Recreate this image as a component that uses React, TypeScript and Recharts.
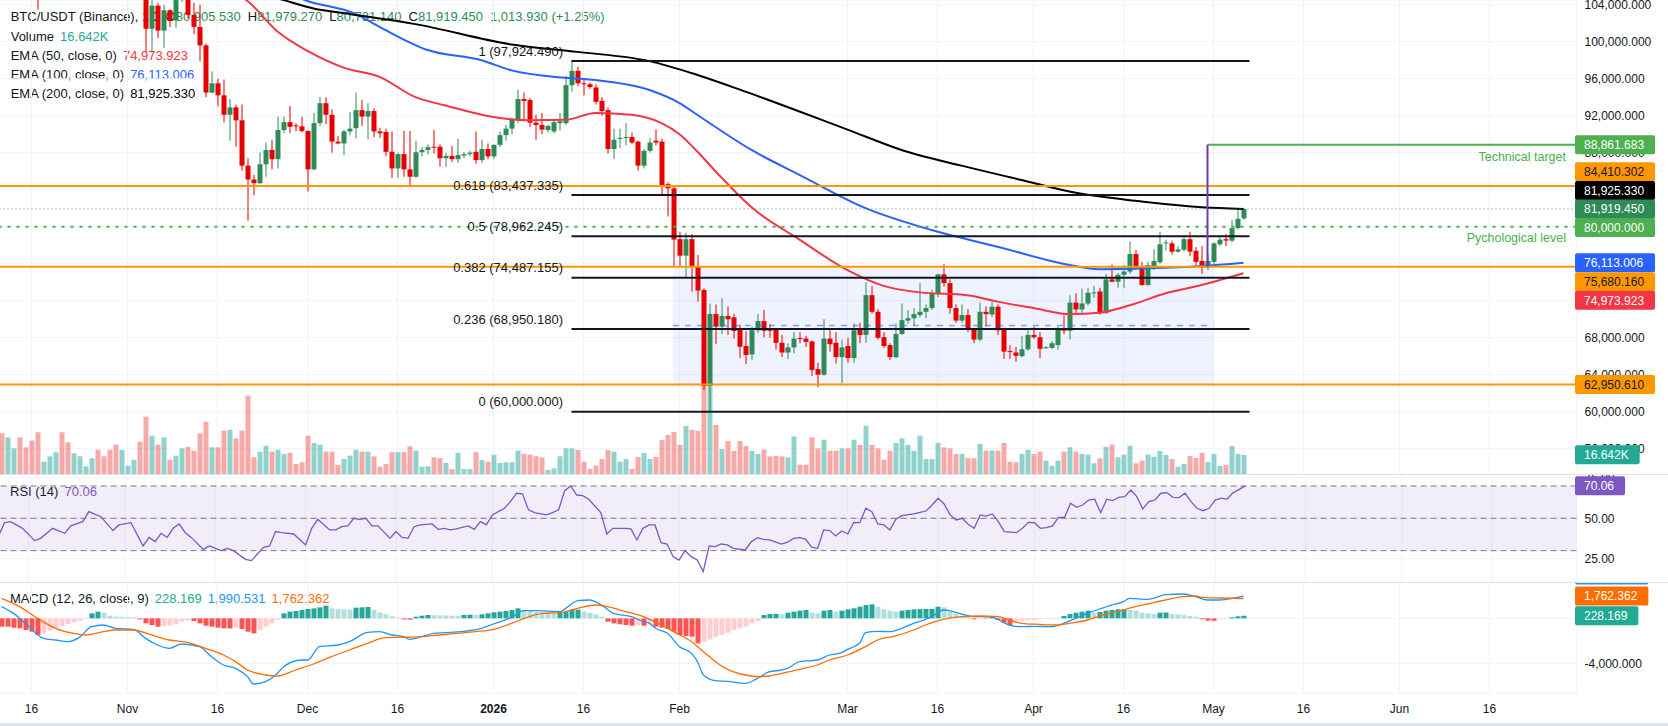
import React from 'react';
import {
  ComposedChart,
  Bar,
  Line,
  XAxis,
  YAxis,
  CartesianGrid,
  ReferenceLine,
  ReferenceArea,
} from 'recharts';

// ---------- look ----------
const FONT = '"Liberation Sans", Arial, Helvetica, sans-serif';
const TEXT = '#131722';
const UP = '#2e8b57';
const DOWN = '#e60000';
const VOL_UP = 'rgba(38,166,154,0.5)';
const VOL_DOWN = 'rgba(239,83,80,0.5)';
const GRID = '#f0f3fa';
const ORANGE = '#ff9800';
const FIB = '#131722';
const TARGET = '#4caf50';

// ---------- calendar ----------
const START_UTC = Date.UTC(2025, 9, 11); // first daily bar: 2025-10-11
const TOTAL_DAYS = 263; // bars plus empty space to the right
const DAY_MS = 86400000;
const dayKey = (i: number) => new Date(START_UTC + i * DAY_MS).toISOString().slice(0, 10);

const DATE_LABELS: [string, string][] = [
  ['2025-10-16', '16'], ['2025-11-01', 'Nov'], ['2025-11-16', '16'], ['2025-12-01', 'Dec'],
  ['2025-12-16', '16'], ['2026-01-01', '2026'], ['2026-01-16', '16'], ['2026-02-01', 'Feb'],
  ['2026-03-01', 'Mar'], ['2026-03-16', '16'], ['2026-04-01', 'Apr'], ['2026-04-16', '16'],
  ['2026-05-01', 'May'], ['2026-05-16', '16'], ['2026-06-01', 'Jun'], ['2026-06-16', '16'],
];

// ---------- BTC/USDT daily candles, thousands of USDT: [open, high, low, close] ----------
const CANDLES_K: [number, number, number, number][] = [
  [113.2, 113.5, 109.7, 110.6], [110.6, 115.8, 109.6, 115.2], [115.2, 116.0, 113.0, 115.3], [115.3, 115.6, 109.9, 113.0], [113.0, 113.6, 110.2, 110.8],
  [110.8, 111.9, 107.5, 108.2], [108.2, 109.3, 103.5, 106.4], [106.4, 107.5, 106.3, 107.2], [107.2, 109.4, 106.1, 108.6], [108.6, 111.7, 107.4, 110.5],
  [110.5, 114.0, 107.5, 108.4], [108.4, 109.1, 106.6, 107.6], [107.6, 111.3, 107.4, 110.0], [110.0, 112.0, 109.7, 111.0], [111.0, 111.9, 110.8, 111.6],
  [111.6, 115.4, 111.3, 114.5], [114.5, 116.4, 113.8, 114.1], [114.1, 116.1, 112.2, 112.9], [112.9, 113.6, 109.9, 110.0], [110.0, 111.6, 106.3, 108.3],
  [108.3, 111.2, 108.2, 109.6], [109.6, 110.6, 109.4, 110.1], [110.1, 111.2, 109.4, 110.5], [110.5, 110.8, 105.3, 106.5], [106.5, 107.3, 98.9, 101.4],
  [101.4, 104.5, 98.8, 103.9], [103.9, 104.2, 100.4, 101.2], [101.2, 104.0, 99.3, 103.4], [103.4, 103.5, 101.6, 102.3], [102.3, 104.6, 101.5, 104.5],
  [104.5, 106.6, 104.3, 106.0], [106.0, 107.5, 102.5, 102.9], [102.9, 104.2, 100.8, 101.6], [101.6, 104.0, 97.9, 99.6], [99.6, 99.8, 94.0, 94.5],
  [94.5, 96.8, 94.4, 95.5], [95.5, 96.0, 93.0, 94.2], [94.2, 95.9, 91.25, 92.1], [92.1, 93.8, 89.3, 92.9], [92.9, 93.2, 88.65, 91.5],
  [91.5, 93.2, 86.05, 86.6], [86.6, 87.4, 80.66, 85.1], [85.1, 85.6, 83.4, 84.7], [84.7, 88.0, 84.6, 86.75], [86.75, 89.1, 85.4, 88.3],
  [88.3, 89.4, 86.2, 87.3], [87.3, 91.9, 86.3, 90.45], [90.45, 91.9, 90.1, 91.3], [91.3, 93.05, 90.1, 90.8], [90.95, 91.2, 90.3, 90.85],
  [90.85, 91.9, 90.2, 90.35], [90.35, 90.4, 83.8, 86.2], [86.2, 92.3, 86.1, 91.2], [91.2, 94.05, 90.9, 93.35], [93.35, 94.0, 91.1, 92.1],
  [92.1, 92.7, 88.0, 89.2], [89.2, 89.8, 88.9, 89.0], [89.0, 90.5, 87.75, 90.3], [90.3, 92.4, 89.9, 90.6], [90.65, 94.5, 89.55, 92.6],
  [92.6, 93.7, 90.9, 91.9], [91.9, 93.35, 89.45, 92.5], [92.5, 92.8, 89.7, 90.3], [90.3, 90.7, 89.6, 90.1], [90.25, 90.6, 87.6, 88.1],
  [88.1, 90.3, 85.25, 86.3], [86.3, 88.0, 85.3, 87.85], [87.85, 90.35, 85.4, 86.2], [86.2, 90.35, 84.4, 85.4], [85.4, 89.3, 85.3, 88.05],
  [88.05, 88.6, 87.6, 88.3], [88.3, 88.9, 87.8, 88.6], [88.65, 90.45, 87.9, 88.55], [88.65, 88.9, 86.5, 87.4], [87.4, 88.0, 86.5, 87.65],
  [87.65, 88.7, 87.0, 87.3], [87.3, 89.5, 86.9, 87.75], [87.7, 88.1, 87.4, 87.85], [87.85, 88.2, 87.6, 88.0], [88.1, 90.3, 86.8, 87.2],
  [87.2, 89.4, 86.9, 88.4], [88.4, 89.0, 87.3, 87.6], [87.6, 88.9, 87.3, 88.85], [88.85, 90.3, 88.6, 89.9], [89.9, 91.0, 89.3, 90.6],
  [90.6, 91.8, 90.0, 91.55], [91.5, 94.8, 91.2, 93.8], [93.8, 94.5, 91.4, 93.6], [93.7, 93.9, 90.8, 91.25], [91.25, 92.1, 89.4, 91.0],
  [91.0, 92.3, 90.0, 90.5], [90.45, 91.0, 90.2, 90.9], [90.3, 91.6, 90.1, 91.3], [91.2, 92.3, 90.4, 91.4], [91.2, 96.3, 91.0, 95.3],
  [95.3, 97.92449, 94.6, 96.85], [96.85, 97.3, 95.2, 95.5], [95.5, 95.9, 94.2, 95.4], [95.4, 95.6, 94.9, 95.1], [95.05, 95.4, 93.2, 93.5],
  [93.6, 94.0, 92.0, 92.5], [92.6, 92.9, 87.9, 88.4], [88.4, 90.6, 87.3, 89.4], [89.5, 90.6, 88.5, 89.6], [89.6, 91.2, 88.8, 89.7],
  [89.7, 90.2, 88.9, 89.1], [89.2, 89.3, 86.05, 86.6], [86.6, 88.4, 86.3, 88.2], [88.2, 89.55, 88.0, 89.1], [89.3, 90.5, 88.8, 89.1],
  [89.2, 89.5, 83.4, 84.5], [84.6, 84.8, 81.1, 84.15], [84.15, 84.5, 75.75, 78.6], [78.65, 79.45, 75.68, 76.87], [76.87, 79.35, 74.5, 78.65],
  [78.65, 79.2, 72.97, 75.68], [75.75, 76.94, 71.9, 73.1], [73.16, 73.34, 62.35, 62.78], [62.8, 71.7, 60.0, 70.57], [70.57, 71.6, 67.3, 69.2],
  [69.2, 72.25, 68.4, 70.35], [70.35, 71.4, 68.3, 70.0], [70.2, 70.6, 67.9, 68.73], [68.9, 69.4, 65.8, 67.03], [67.1, 68.7, 65.15, 66.13],
  [66.2, 69.2, 65.6, 68.8], [68.8, 70.55, 68.5, 69.8], [69.8, 71.0, 68.05, 68.75], [68.85, 69.5, 68.0, 68.75], [68.9, 69.0, 66.7, 67.45],
  [67.45, 68.3, 65.9, 66.4], [66.4, 67.4, 65.7, 66.95], [66.95, 68.6, 66.3, 67.9], [67.95, 68.6, 67.4, 67.85], [67.9, 68.2, 67.0, 67.55],
  [67.6, 67.7, 63.85, 64.5], [64.6, 65.3, 62.65, 64.0], [64.0, 70.0, 63.9, 67.9], [67.9, 68.8, 66.5, 67.3], [67.45, 68.6, 65.2, 65.9],
  [65.9, 67.8, 63.1, 66.95], [67.1, 68.0, 65.3, 65.8], [65.8, 69.55, 65.3, 68.8], [69.0, 69.6, 67.4, 68.3], [68.3, 74.0, 67.45, 72.6],
  [72.6, 73.6, 70.6, 70.8], [70.8, 71.1, 67.8, 68.0], [68.05, 68.6, 66.9, 67.1], [67.2, 67.4, 65.6, 65.9], [65.9, 69.55, 65.8, 68.4],
  [68.4, 71.7, 68.3, 69.9], [69.85, 71.0, 69.5, 70.1], [70.1, 71.2, 69.3, 70.55], [70.45, 73.9, 70.2, 70.8], [70.8, 71.6, 70.1, 71.2],
  [71.2, 73.2, 71.0, 72.8], [72.8, 74.9, 72.4, 74.85], [74.85, 75.95, 73.5, 73.9], [73.9, 74.3, 70.6, 71.2], [71.2, 71.6, 69.6, 69.85],
  [69.85, 71.6, 69.6, 70.45], [70.45, 71.1, 68.6, 68.9], [68.9, 69.0, 67.4, 67.8], [67.8, 71.8, 67.6, 70.8], [70.8, 71.4, 69.2, 70.55],
  [70.5, 71.9, 70.2, 71.35], [71.35, 71.6, 68.3, 68.8], [68.9, 69.0, 65.7, 66.5], [66.55, 67.2, 65.7, 66.45], [66.4, 67.0, 65.4, 66.05],
  [66.0, 68.2, 65.9, 66.75], [66.75, 68.8, 66.6, 68.3], [68.3, 69.2, 67.9, 68.05], [68.05, 68.6, 65.8, 66.8], [66.9, 67.1, 66.8, 66.97],
  [66.9, 67.6, 66.8, 67.4], [67.2, 69.2, 66.7, 69.0], [69.0, 70.4, 68.4, 68.75], [68.75, 72.6, 67.8, 71.8], [71.8, 72.8, 70.7, 71.05],
  [71.05, 73.3, 70.7, 71.7], [71.7, 73.4, 71.5, 72.85], [72.85, 73.6, 72.3, 72.9], [73.0, 73.4, 70.5, 70.65], [70.65, 74.9, 70.6, 74.3],
  [74.3, 75.9, 74.0, 74.05], [74.05, 75.0, 73.4, 74.8], [74.8, 75.85, 73.35, 75.15], [75.15, 78.4, 74.9, 77.05], [77.05, 77.5, 75.4, 75.6],
  [75.75, 76.2, 73.6, 73.7], [73.7, 76.2, 73.6, 75.85], [75.75, 77.55, 75.3, 76.3], [76.15, 79.45, 76.0, 78.1], [78.2, 78.6, 77.4, 78.3],
  [78.2, 78.5, 77.0, 77.3], [77.3, 77.9, 77.2, 77.55], [77.5, 78.9, 77.3, 78.65], [78.65, 79.45, 76.8, 77.3], [77.4, 77.8, 75.8, 76.2],
  [76.3, 77.9, 74.9, 75.6], [75.6, 77.0, 75.3, 76.3], [76.2, 78.3, 75.9, 78.2], [78.1, 79.0, 77.9, 78.6], [78.65, 79.2, 77.9, 78.5],
  [78.5, 80.7, 78.3, 79.85], [79.85, 81.9, 79.7, 80.85], [80.90553, 81.97927, 80.73114, 81.91945],
];

// daily volume, thousand BTC
const VOLUME_K: number[] = [
  35.4, 31.9, 22.3, 31.9, 23.2, 29.0, 36.3, 10.7, 15.4, 18.9,
  36.3, 27.6, 18.0, 15.4, 6.7, 13.7, 21.1, 15.4, 21.1, 25.5,
  21.1, 7.2, 12.4, 28.1, 49.8, 33.3, 25.5, 31.9, 12.4, 15.9,
  22.3, 23.7, 20.3, 35.4, 45.5, 23.2, 23.2, 37.7, 38.5, 31.0,
  37.7, 68.1, 14.5, 19.4, 24.6, 19.4, 21.1, 17.4, 18.3, 8.7,
  10.2, 33.3, 27.0, 25.5, 19.4, 19.4, 7.8, 13.0, 15.9, 21.1,
  19.4, 19.4, 15.4, 6.3, 8.7, 18.9, 18.9, 18.9, 24.1, 20.3,
  6.3, 6.7, 14.5, 13.9, 9.6, 4.3, 18.5, 4.3, 4.3, 18.9,
  12.2, 10.7, 16.8, 9.6, 10.2, 10.2, 20.3, 17.4, 16.8, 15.4,
  14.5, 3.5, 5.0, 15.4, 22.3, 22.3, 20.9, 10.7, 4.3, 7.2,
  13.0, 20.9, 19.4, 10.7, 13.0, 4.3, 14.8, 18.3, 13.0, 14.8,
  29.6, 33.9, 36.5, 25.2, 41.7, 38.3, 37.4, 83.5, 80.0, 42.6,
  21.7, 28.7, 20.0, 28.7, 24.3, 20.0, 17.4, 21.1, 15.4, 15.9,
  15.4, 14.5, 32.8, 8.1, 8.1, 31.9, 22.3, 29.8, 20.3, 20.3,
  22.3, 22.3, 29.8, 25.2, 42.0, 25.2, 22.3, 12.4, 20.3, 27.0,
  31.0, 25.2, 20.3, 33.3, 13.0, 13.0, 27.0, 23.2, 22.3, 17.4,
  17.4, 13.7, 13.7, 26.1, 20.3, 20.3, 20.3, 27.0, 10.7, 10.2,
  17.4, 21.1, 17.4, 19.4, 11.6, 7.2, 11.6, 19.4, 23.2, 19.4,
  17.4, 16.8, 9.3, 13.7, 23.7, 25.5, 14.5, 16.8, 24.6, 9.3,
  11.6, 16.8, 15.0, 20.0, 16.5, 13.0, 6.3, 8.7, 15.7, 13.9,
  18.3, 10.4, 17.4, 7.0, 7.8, 24.3, 17.4, 16.642,
];

// moving averages, [bar index, thousands of USDT]
const EMA50_K: [number, number][] = [
  [0, 112.6], [15, 111.8], [25, 110.2], [33, 107.6], [38, 105.6], [41, 104.4], [46, 101.1], [51, 99.0],
  [57, 97.2], [63, 96.2], [69, 94.0], [74, 93.1], [82, 91.85], [88, 91.5], [94, 91.55], [99, 92.3],
  [105, 92.1], [110, 91.2], [113, 90.0], [116, 88.1], [120, 85.3], [125, 82.1], [133, 78.6], [141, 75.3],
  [147, 73.6], [153, 72.9], [161, 72.6], [166, 71.9], [172, 71.2], [178, 70.55], [183, 70.7], [189, 71.7],
  [194, 72.8], [200, 73.7], [207, 74.973923],
];
const EMA100_K: [number, number][] = [
  [0, 112.0], [25, 110.5], [40, 107.5], [51, 104.4], [59, 103.0], [63, 101.6], [71, 99.1], [80, 98.0],
  [85, 96.9], [94, 96.1], [99, 95.86], [108, 94.78], [113, 93.37], [116, 92.08], [125, 88.3], [133, 85.6],
  [144, 82.0], [155, 79.64], [166, 77.84], [178, 75.86], [183, 75.4], [191, 75.5], [200, 75.75], [207, 76.113006],
];
const EMA200_K: [number, number][] = [
  [0, 108.6], [20, 108.2], [35, 106.5], [47, 104.5], [52, 103.6], [58, 103.0], [69, 101.9], [85, 99.7],
  [96, 98.9], [108, 97.9], [116, 96.4], [124, 94.6], [141, 90.5], [150, 88.3], [160, 86.6], [170, 85.05],
  [178, 83.8], [189, 82.8], [200, 82.1], [207, 81.92533],
];

// RSI(14), [bar index, value]
const RSI_14: [number, number][] = [
  [0, 39.1], [1, 47.3], [2, 47.9], [4, 43.8], [6, 36.2], [7, 37.6], [9, 43.8], [11, 40.7], [12, 45.3], [14, 47.9],
  [15, 54.1], [17, 51.0], [19, 42.4], [20, 45.9], [22, 47.3], [24, 32.9], [25, 38.2], [26, 35.6], [27, 40.7], [28, 38.2],
  [29, 43.8], [30, 46.5], [31, 41.1], [32, 38.2], [34, 30.8], [35, 32.9], [37, 30.0], [38, 31.4], [39, 30.0], [41, 24.6],
  [42, 23.8], [44, 32.1], [45, 32.9], [46, 41.8], [47, 41.1], [49, 40.3], [51, 33.5], [52, 43.8], [53, 49.4], [55, 42.8],
  [56, 42.8], [57, 44.8], [58, 45.3], [59, 50.0], [60, 49.4], [61, 50.0], [62, 45.3], [63, 45.3], [65, 37.6], [66, 41.8],
  [67, 38.2], [68, 37.6], [69, 44.8], [70, 45.9], [72, 46.5], [73, 43.2], [74, 43.8], [75, 42.8], [76, 43.4], [78, 45.3],
  [79, 43.2], [80, 47.9], [81, 45.9], [82, 52.1], [84, 56.2], [85, 60.3], [86, 65.5], [87, 65.1], [88, 55.2], [89, 53.5],
  [91, 52.1], [92, 53.5], [93, 55.2], [94, 67.1], [95, 70.0], [96, 64.4], [97, 64.0], [98, 61.8], [100, 53.5], [101, 40.3],
  [102, 43.8], [104, 43.8], [105, 43.4], [106, 36.6], [107, 43.8], [108, 45.9], [109, 45.9], [110, 34.9], [111, 34.1], [112, 26.3],
  [113, 24.2], [114, 30.0], [115, 26.3], [116, 24.2], [117, 17.0], [118, 32.9], [119, 32.5], [120, 34.1], [121, 33.5], [122, 31.4],
  [124, 30.4], [125, 35.6], [126, 38.0], [127, 37.0], [128, 36.6], [130, 34.1], [131, 35.2], [132, 37.6], [133, 38.0], [134, 37.2],
  [135, 32.1], [136, 31.4], [137, 42.8], [138, 42.4], [139, 39.1], [140, 42.2], [141, 40.3], [142, 47.5], [143, 47.3], [144, 56.2],
  [145, 54.1], [146, 46.5], [147, 45.9], [148, 42.8], [149, 49.4], [150, 51.6], [152, 52.7], [153, 53.7], [154, 54.5], [155, 58.2],
  [156, 62.4], [157, 58.9], [158, 52.1], [159, 49.0], [160, 50.0], [161, 46.3], [162, 43.8], [163, 52.1], [164, 51.4], [165, 52.7],
  [166, 47.9], [167, 41.8], [168, 41.5], [169, 41.1], [170, 43.8], [171, 47.5], [172, 47.3], [173, 43.8], [174, 44.2], [175, 45.3],
  [176, 50.6], [177, 50.6], [178, 59.3], [179, 56.8], [180, 58.2], [181, 61.3], [182, 61.8], [183, 53.5], [184, 61.8], [185, 60.9],
  [186, 63.0], [187, 63.4], [188, 67.5], [189, 63.4], [190, 55.8], [191, 60.3], [192, 61.3], [193, 65.5], [194, 65.9], [195, 63.0],
  [196, 62.8], [197, 65.5], [198, 60.3], [199, 56.2], [200, 54.7], [201, 56.2], [202, 61.3], [203, 62.4], [204, 61.9], [205, 65.9],
  [206, 67.9], [207, 70.06],
];

// MACD(12, 26, 9): lines as [bar index, value], histogram one value per bar
const MACD_LINE: [number, number][] = [
  [0, 1037], [2, 444], [4, -444], [7, -1778], [9, -1926], [11, -2074], [13, -1689], [15, -741], [17, -593], [19, -889],
  [22, -978], [24, -1778], [26, -2370], [28, -2667], [30, -2281], [33, -2519], [35, -3407], [37, -4148], [39, -4444], [41, -5185],
  [42, -5837], [44, -5630], [46, -4889], [47, -4296], [50, -3704], [51, -3704], [53, -2519], [56, -2370], [58, -2074], [61, -1244],
  [63, -1185], [65, -1481], [67, -1630], [68, -1867], [70, -1630], [72, -1333], [74, -1274], [77, -1156], [80, -889], [82, -504],
  [85, 89], [87, 681], [89, 681], [93, 593], [95, 1274], [96, 1570], [98, 1630], [100, 1185], [102, 444], [105, 148],
  [107, -300], [108, -444], [109, -889], [111, -1333], [113, -2519], [115, -3111], [116, -3852], [117, -5037], [119, -5541], [121, -5600],
  [124, -5778], [126, -5333], [128, -4741], [130, -4593], [131, -4444], [133, -3852], [136, -3704], [138, -3259], [140, -3052], [141, -2756],
  [143, -2222], [144, -1274], [146, -1156], [148, -1185], [150, -889], [152, -444], [154, -89], [155, 148], [157, 741], [158, 681],
  [160, 385], [162, 148], [165, 148], [166, -89], [168, -593], [170, -741], [172, -711], [175, -741], [177, -444], [179, 0],
  [181, 444], [183, 830], [185, 1185], [187, 1481], [188, 1778], [191, 1689], [192, 1778], [194, 2104], [197, 2163], [199, 1926],
  [201, 1630], [203, 1630], [205, 1748], [207, 1990.531],
];
const MACD_SIGNAL: [number, number][] = [
  [0, 1778], [3, 1037], [6, 0], [9, -889], [12, -1333], [14, -1481], [17, -1185], [19, -1037], [22, -1037], [25, -1481],
  [28, -1926], [31, -2133], [34, -2667], [37, -3259], [39, -3852], [41, -4593], [44, -5037], [46, -5126], [49, -4593], [52, -4059],
  [55, -3407], [58, -2815], [61, -2222], [64, -1719], [67, -1689], [70, -1630], [73, -1481], [76, -1333], [79, -1185], [82, -978],
  [85, -444], [88, 148], [90, 444], [93, 504], [96, 889], [99, 1185], [101, 1037], [104, 593], [107, 148], [108, -89],
  [110, -593], [112, -1185], [115, -2074], [117, -2963], [119, -3852], [121, -4533], [124, -5037], [126, -5185], [128, -5126], [130, -4889],
  [133, -4533], [136, -4148], [138, -3704], [141, -3259], [144, -2519], [146, -1926], [149, -1570], [152, -1037], [154, -593], [157, -89],
  [160, 148], [163, 207], [166, 148], [168, -148], [170, -444], [173, -533], [176, -593], [178, -444], [181, -148], [183, 207],
  [186, 593], [189, 1037], [191, 1274], [194, 1630], [197, 1926], [199, 1985], [200, 1867], [203, 1807], [207, 1762.362],
];
const MACD_HIST: number[] = [
  -741, -741, -830, -889, -1037, -1185, -1482, -1333, -1096, -889,
  -681, -504, -356, -207, -59, 444, 593, 504, 237, 148,
  130, 110, 89, -89, -444, -593, -741, -700, -652, -533,
  -296, -178, -237, -444, -652, -741, -830, -889, -900, -830,
  -948, -1185, -1333, -1037, -741, -444, -148, 444, 593, 652,
  741, 830, 889, 978, 1126, 889, 830, 800, 770, 948,
  978, 1007, 741, 533, 356, 178, 59, -89, -119, 148,
  237, 296, 281, 267, 252, 237, 222, 296, 326, 296,
  356, 444, 533, 593, 652, 741, 889, 741, 652, 593,
  533, 474, 444, 504, 593, 741, 770, 593, 474, 356,
  148, -296, -444, -533, -593, -652, -593, -652, -444, -741,
  -830, -948, -1185, -1482, -1570, -1630, -2222, -2074, -1867, -1630,
  -1482, -1274, -1037, -889, -741, -444, -237, 296, 385, 400,
  356, 504, 593, 681, 741, 504, 444, 681, 741, 593,
  681, 800, 889, 1037, 1185, 1244, 1037, 800, 681, 593,
  681, 741, 800, 815, 830, 844, 1037, 978, 593, 385,
  207, 148, -89, -30, 59, 148, -148, -385, -593, -296,
  -207, -148, -140, -89, -59, -50, -45, 207, 385, 504,
  593, 681, 504, 563, 681, 741, 800, 815, 741, 681,
  504, 444, 385, 504, 519, 385, 356, 296, 207, 148,
  -89, -207, -222, -89, -30, 89, 178, 228.169,
];

// ---------- drawings ----------
const KEY_LEVELS = [84410.302, 75680.16, 62950.61]; // horizontal support / resistance
const PSYCH_LEVEL = 80000;
const TARGET_LEVEL = 88861.683;
const TARGET_FROM = 201; // bar index where the projection starts
const FIB_HIGH = 97924.49;
const FIB_LOW = 60000;
const FIB_RATIOS = [1, 0.618, 0.5, 0.382, 0.236, 0];
const FIB_FROM = 95;
const FIB_TO = 208;
const RANGE_BOX = { from: 111.9, to: 202, top: 75680.16, bottom: 62950.61 };

// scale marks; the ones sitting under the price tags keep their grid line but lose their text
const PRICE_TICKS = [56000, 60000, 64000, 68000, 72000, 76000, 80000, 84000, 88000, 92000, 96000, 100000, 104000];
const PRICE_TICKS_UNDER_TAGS = [72000, 76000, 80000, 84000];
const RSI_TICKS = [25, 50, 75];
const MACD_TICKS = [-4000, 0];
const MACD_TICKS_UNDER_TAGS = [0];

// ---------- helpers ----------
const fmt3 = (v: number) => v.toLocaleString('en-US', { minimumFractionDigits: 3, maximumFractionDigits: 3 });
const textW = (s: string) =>
  s.split('').reduce((a, ch) => a + (/[0-9]/.test(ch) ? 6.67 : ch === 'K' ? 8 : ch === '-' ? 4 : 3.34), 0);

type Row = Record<string, any>;
const rows: Row[] = Array.from({ length: TOTAL_DAYS }, (_, i) => {
  const r: Row = { i, d: dayKey(i) };
  const cd = CANDLES_K[i];
  if (cd) {
    r.o = cd[0] * 1000;
    r.h = cd[1] * 1000;
    r.l = cd[2] * 1000;
    r.c = cd[3] * 1000;
    r.range = [r.l, r.h];
  }
  if (VOLUME_K[i] != null) r.vol = VOLUME_K[i];
  if (MACD_HIST[i] != null) {
    const v = MACD_HIST[i];
    const prev = i > 0 ? MACD_HIST[i - 1] : v;
    r.hist = v;
    r.histColor = v >= 0 ? (v >= prev ? '#26a69a' : '#b2dfdb') : (v > prev ? '#ffcdd2' : '#ff5252');
  }
  return r;
});
EMA50_K.forEach(([i, v]) => (rows[i].ema50 = v * 1000));
EMA100_K.forEach(([i, v]) => (rows[i].ema100 = v * 1000));
EMA200_K.forEach(([i, v]) => (rows[i].ema200 = v * 1000));
RSI_14.forEach(([i, v]) => (rows[i].rsi = v));
MACD_LINE.forEach(([i, v]) => (rows[i].macd = v));
MACD_SIGNAL.forEach(([i, v]) => (rows[i].signal = v));

const last = rows[CANDLES_K.length - 1];
const lastOf = (a: [number, number][]) => a[a.length - 1][1];
const TICK_DATES = DATE_LABELS.map((d) => d[0]);
const TICK_TEXT: Record<string, string> = Object.fromEntries(DATE_LABELS);

// ---------- layout ----------
const W = 1668;
const MARGIN = { top: 0, right: 0, bottom: 0, left: -1.5 };
const AXIS_W = 91.5;
const MAIN_H = 474;
const RSI_H = 108;
const MACD_H = 111;
const XAXIS_H = 33;
const AXIS_TICK = { fontSize: 12, fill: TEXT };
const PRICE_DOMAIN: [number, number] = [53265, 104508];
const VOL_DOMAIN: [number, number] = [0, 412];
const RSI_DOMAIN: [number, number] = [10.6, 77.4];
const MACD_DOMAIN: [number, number] = [-6637, 3230];

// price-scale tags: value, text, background, text colour, vertical nudge to keep tags from overlapping
type Tag = { y: number; text: string; bg: string; fg: string; shift?: number; axis?: string };
const PRICE_TAGS: Tag[] = [
  { y: TARGET_LEVEL, text: fmt3(TARGET_LEVEL), bg: TARGET, fg: '#fff' },
  { y: KEY_LEVELS[0], text: fmt3(KEY_LEVELS[0]), bg: ORANGE, fg: TEXT, shift: -14.2 },
  { y: lastOf(EMA200_K) * 1000, text: fmt3(lastOf(EMA200_K) * 1000), bg: '#000', fg: '#fff', shift: -18.3 },
  { y: last.c, text: fmt3(last.c), bg: UP, fg: '#fff' },
  { y: PSYCH_LEVEL, text: fmt3(PSYCH_LEVEL), bg: TARGET, fg: '#fff', shift: 0.8 },
  { y: lastOf(EMA100_K) * 1000, text: fmt3(lastOf(EMA100_K) * 1000), bg: '#2962ff', fg: '#fff' },
  { y: KEY_LEVELS[1], text: fmt3(KEY_LEVELS[1]), bg: ORANGE, fg: TEXT, shift: 15 },
  { y: lastOf(EMA50_K) * 1000, text: fmt3(lastOf(EMA50_K) * 1000), bg: '#f23645', fg: '#fff', shift: 27 },
  { y: KEY_LEVELS[2], text: fmt3(KEY_LEVELS[2]), bg: ORANGE, fg: TEXT },
  { y: VOLUME_K[VOLUME_K.length - 1], text: `${VOLUME_K[VOLUME_K.length - 1].toFixed(3)}K`, bg: '#22ab94', fg: '#fff', axis: 'vol' },
];
const RSI_TAGS: Tag[] = [{ y: lastOf(RSI_14), text: lastOf(RSI_14).toFixed(2), bg: '#7e57c2', fg: '#fff' }];
const MACD_TAGS: Tag[] = [
  { y: lastOf(MACD_LINE), text: fmt3(lastOf(MACD_LINE)), bg: '#2196f3', fg: '#fff', shift: -21 },
  { y: lastOf(MACD_SIGNAL), text: fmt3(lastOf(MACD_SIGNAL)), bg: '#ff6d00', fg: '#fff', shift: -2.5 },
  { y: MACD_HIST[MACD_HIST.length - 1], text: fmt3(MACD_HIST[MACD_HIST.length - 1]), bg: '#22ab94', fg: '#fff' },
];

// ---------- shapes ----------
function Candle(props: any) {
  const { x, y, width, height, payload } = props;
  if (!payload || payload.o == null || !Number.isFinite(y) || !Number.isFinite(height)) return null;
  const top = height >= 0 ? y : y + height;
  const span = Math.abs(height);
  const { o, h, l, c } = payload;
  const k = h > l ? span / (h - l) : 0;
  const yO = top + (h - o) * k;
  const yC = top + (h - c) * k;
  const color = c >= o ? UP : DOWN;
  const cx = x + width / 2;
  return (
    <g>
      <rect x={cx - 0.5} y={top} width={1} height={Math.max(1, span)} fill={color} />
      <rect x={x} y={Math.min(yO, yC)} width={width} height={Math.max(1, Math.abs(yO - yC))} fill={color} />
    </g>
  );
}

function VolumeBar(props: any) {
  const { x, y, width, height, payload } = props;
  if (!payload || payload.vol == null || !Number.isFinite(height)) return null;
  const top = height >= 0 ? y : y + height;
  return <rect x={x} y={top} width={width} height={Math.abs(height)} fill={payload.c >= payload.o ? VOL_UP : VOL_DOWN} />;
}

function HistBar(props: any) {
  const { x, y, width, height, payload } = props;
  if (!payload || payload.hist == null || !Number.isFinite(height)) return null;
  const top = height >= 0 ? y : y + height;
  return <rect x={x} y={top} width={width} height={Math.max(0.5, Math.abs(height))} fill={payload.histColor} />;
}

const badge = (t: Tag) => (p: any) => {
  const vb = p && p.viewBox;
  if (!vb) return null;
  const x = vb.x + vb.width - 1.5;
  const cy = vb.y + (t.shift || 0);
  return (
    <g>
      <rect x={x} y={cy - 9.5} width={textW(t.text) + 20} height={19} rx={2} fill={t.bg} />
      <text x={x + 9} y={cy} dy="0.36em" fontSize={12} fill={t.fg}>{t.text}</text>
    </g>
  );
};

const fibLabel = (text: string) => (p: any) => {
  const vb = p && p.viewBox;
  if (!vb) return null;
  return (
    <text x={vb.x - 8.5} y={vb.y - 10} dy="0.36em" textAnchor="end" fontSize={13} fill={TEXT}>{text}</text>
  );
};

const noteLabel = (text: string, dy: number) => (p: any) => {
  const vb = p && p.viewBox;
  if (!vb) return null;
  return (
    <text x={vb.x + vb.width - 10.5} y={vb.y + dy} dy="0.36em" textAnchor="end" fontSize={12.5} fill={TARGET}>{text}</text>
  );
};

function DateTick(props: any) {
  const { x, y, payload } = props;
  const lbl = TICK_TEXT[payload && payload.value];
  if (!lbl) return null;
  return (
    <text x={x} y={y + 8} dy="0.36em" textAnchor="middle" fontSize={12} fill={TEXT} fontWeight={lbl === '2026' ? 700 : 400}>
      {lbl}
    </text>
  );
}

// ---------- legend text behind the plots ----------
function Row({ cy, x = 10.7, gap = 6, children }: any) {
  return (
    <div
      style={{
        position: 'absolute',
        left: x,
        top: cy - 8,
        lineHeight: '16px',
        fontSize: 13,
        whiteSpace: 'nowrap',
        display: 'flex',
        gap,
      }}
    >
      {children}
    </div>
  );
}
const C = ({ c, children }: any) => <span style={{ color: c }}>{children}</span>;

function Legends() {
  const g = UP;
  return (
    <div style={{ position: 'absolute', left: 0, top: 0, zIndex: 0, color: TEXT }}>
      <Row cy={17} gap={7}>
        <span>BTC/USDT (Binance), 1D</span>
        <span>O<C c={g}>{fmt3(last.o)}</C></span>
        <span>H<C c={g}>{fmt3(last.h)}</C></span>
        <span>L<C c={g}>{fmt3(last.l)}</C></span>
        <span>C<C c={g}>{fmt3(last.c)}</C></span>
        <C c={g}>1,013.930 (+1.25%)</C>
      </Row>
      <Row cy={36.5}>
        <span>Volume</span>
        <C c="#22ab94">{VOLUME_K[VOLUME_K.length - 1].toFixed(3)}K</C>
      </Row>
      <Row cy={55.7}>
        <span>EMA (50, close, 0)</span>
        <C c="#f23645">{fmt3(lastOf(EMA50_K) * 1000)}</C>
      </Row>
      <Row cy={75}>
        <span>EMA (100, close, 0)</span>
        <C c="#2962ff">{fmt3(lastOf(EMA100_K) * 1000)}</C>
      </Row>
      <Row cy={94.3}>
        <span>EMA (200, close, 0)</span>
        <C c="#000">{fmt3(lastOf(EMA200_K) * 1000)}</C>
      </Row>
      <Row cy={491.7} x={10}>
        <span>RSI (14)</span>
        <C c="#7e57c2">{lastOf(RSI_14).toFixed(2)}</C>
      </Row>
      <Row cy={599.3} x={10}>
        <span>MACD (12, 26, close, 9)</span>
        <C c="#22ab94">{fmt3(MACD_HIST[MACD_HIST.length - 1])}</C>
        <C c="#2196f3">{fmt3(lastOf(MACD_LINE))}</C>
        <C c="#ff6d00">{fmt3(lastOf(MACD_SIGNAL))}</C>
      </Row>
    </div>
  );
}

// ---------- panes ----------
function PricePane() {
  const fibLevels = FIB_RATIOS.map((r) => ({ r, v: FIB_LOW + r * (FIB_HIGH - FIB_LOW) }));
  const mid = (RANGE_BOX.top + RANGE_BOX.bottom) / 2;
  return (
    <ComposedChart width={W} height={MAIN_H} data={rows} margin={MARGIN}>
      <CartesianGrid xAxisId="cat" yAxisId="price" stroke={GRID} />
      <XAxis xAxisId="cat" dataKey="d" hide ticks={TICK_DATES} interval={0} />
      <XAxis xAxisId="vol" dataKey="d" hide />
      <XAxis xAxisId="num" dataKey="i" type="number" domain={[-0.5, TOTAL_DAYS - 0.5]} allowDataOverflow hide />
      <YAxis
        yAxisId="price"
        orientation="right"
        width={AXIS_W}
        domain={PRICE_DOMAIN}
        allowDataOverflow
        ticks={PRICE_TICKS}
        tickFormatter={(v: number) => (PRICE_TICKS_UNDER_TAGS.includes(v) ? '' : fmt3(v))}
        tickLine={false}
        axisLine={false}
        tick={AXIS_TICK}
        interval={0}
      />
      <YAxis yAxisId="vol" hide domain={VOL_DOMAIN} allowDataOverflow />

      <ReferenceArea
        xAxisId="num"
        yAxisId="price"
        x1={RANGE_BOX.from}
        x2={RANGE_BOX.to}
        y1={RANGE_BOX.bottom}
        y2={RANGE_BOX.top}
        fill="#2962ff"
        fillOpacity={0.08}
        stroke="none"
      />

      <Bar xAxisId="vol" yAxisId="vol" dataKey="vol" barSize={5} shape={VolumeBar} isAnimationActive={false} />
      <Bar xAxisId="cat" yAxisId="price" dataKey="range" barSize={5} shape={Candle} isAnimationActive={false} />

      <Line xAxisId="cat" yAxisId="price" dataKey="ema50" type="monotone" connectNulls dot={false} stroke="#f23645" strokeWidth={2} isAnimationActive={false} />
      <Line xAxisId="cat" yAxisId="price" dataKey="ema100" type="monotone" connectNulls dot={false} stroke="#2962ff" strokeWidth={2} isAnimationActive={false} />
      <Line xAxisId="cat" yAxisId="price" dataKey="ema200" type="monotone" connectNulls dot={false} stroke="#000000" strokeWidth={2} isAnimationActive={false} />

      {KEY_LEVELS.map((v) => (
        <ReferenceLine key={'k' + v} xAxisId="cat" yAxisId="price" y={v} stroke={ORANGE} strokeWidth={2} />
      ))}
      <ReferenceLine xAxisId="cat" yAxisId="price" y={last.c} stroke={UP} strokeWidth={1} strokeDasharray="1 3" />
      <ReferenceLine
        xAxisId="cat"
        yAxisId="price"
        y={PSYCH_LEVEL}
        stroke={TARGET}
        strokeWidth={2}
        strokeDasharray="3 6"
        label={noteLabel('Pychological level', 11)}
      />
      <ReferenceLine
        xAxisId="num"
        yAxisId="price"
        segment={[{ x: RANGE_BOX.from, y: mid }, { x: RANGE_BOX.to, y: mid }]}
        stroke="#2962ff"
        strokeOpacity={0.55}
        strokeWidth={1.5}
        strokeDasharray="6 6"
      />
      {fibLevels.map(({ r, v }) => (
        <ReferenceLine
          key={'f' + r}
          xAxisId="num"
          yAxisId="price"
          segment={[{ x: FIB_FROM, y: v }, { x: FIB_TO, y: v }]}
          stroke={FIB}
          strokeWidth={2}
          label={fibLabel(`${r} (${fmt3(v)})`)}
        />
      ))}
      <ReferenceLine
        xAxisId="num"
        yAxisId="price"
        segment={[{ x: TARGET_FROM, y: TARGET_LEVEL }, { x: TOTAL_DAYS - 0.5, y: TARGET_LEVEL }]}
        stroke={TARGET}
        strokeWidth={2}
        label={noteLabel('Technical target', 11.5)}
      />
      <ReferenceLine
        xAxisId="num"
        yAxisId="price"
        segment={[{ x: TARGET_FROM, y: TARGET_LEVEL }, { x: TARGET_FROM, y: KEY_LEVELS[1] }]}
        stroke="#673ab7"
        strokeWidth={2}
      />
    </ComposedChart>
  );
}

// tags on the price scale, drawn in a layer above the scale labels
function TagLayer({ height, domain, tags, volDomain }: { height: number; domain: [number, number]; tags: Tag[]; volDomain?: [number, number] }) {
  return (
    <ComposedChart width={W} height={height} data={rows} margin={MARGIN}>
      <XAxis xAxisId="cat" dataKey="d" hide />
      <YAxis yAxisId="main" orientation="right" width={AXIS_W} domain={domain} allowDataOverflow tick={false} tickLine={false} axisLine={false} />
      {volDomain && <YAxis yAxisId="vol" hide domain={volDomain} allowDataOverflow />}
      {tags.map((t, k) => (
        <ReferenceLine
          key={k}
          xAxisId="cat"
          yAxisId={t.axis === 'vol' ? 'vol' : 'main'}
          y={t.y}
          stroke="none"
          ifOverflow="visible"
          label={badge(t)}
        />
      ))}
    </ComposedChart>
  );
}

function RsiPane() {
  return (
    <ComposedChart width={W} height={RSI_H} data={rows} margin={MARGIN}>
      <CartesianGrid xAxisId="cat" yAxisId="rsi" stroke={GRID} />
      <XAxis xAxisId="cat" dataKey="d" hide ticks={TICK_DATES} interval={0} />
      <YAxis
        yAxisId="rsi"
        orientation="right"
        width={AXIS_W}
        domain={RSI_DOMAIN}
        allowDataOverflow
        ticks={RSI_TICKS}
        tickFormatter={(v: number) => v.toFixed(2)}
        tickLine={false}
        axisLine={false}
        tick={AXIS_TICK}
        interval={0}
      />
      <ReferenceArea xAxisId="cat" yAxisId="rsi" y1={30} y2={70} fill="#7e57c2" fillOpacity={0.1} stroke="none" />
      {[70, 50, 30].map((v) => (
        <ReferenceLine key={v} xAxisId="cat" yAxisId="rsi" y={v} stroke="#787b86" strokeWidth={1} strokeDasharray="6 4" />
      ))}
      <Line xAxisId="cat" yAxisId="rsi" dataKey="rsi" type="linear" connectNulls dot={false} stroke="#7e57c2" strokeWidth={1.3} isAnimationActive={false} />
    </ComposedChart>
  );
}

function MacdPane() {
  return (
    <ComposedChart width={W} height={MACD_H + XAXIS_H} data={rows} margin={MARGIN}>
      <CartesianGrid xAxisId="cat" yAxisId="macd" stroke={GRID} />
      <XAxis
        xAxisId="cat"
        dataKey="d"
        height={XAXIS_H}
        ticks={TICK_DATES}
        interval={0}
        tickLine={false}
        axisLine={false}
        tick={DateTick}
      />
      <YAxis
        yAxisId="macd"
        orientation="right"
        width={AXIS_W}
        domain={MACD_DOMAIN}
        allowDataOverflow
        ticks={MACD_TICKS}
        tickFormatter={(v: number) => (MACD_TICKS_UNDER_TAGS.includes(v) ? '' : fmt3(v))}
        tickLine={false}
        axisLine={false}
        tick={AXIS_TICK}
        interval={0}
      />
      <Bar xAxisId="cat" yAxisId="macd" dataKey="hist" barSize={5} shape={HistBar} isAnimationActive={false} />
      <Line xAxisId="cat" yAxisId="macd" dataKey="macd" type="monotone" connectNulls dot={false} stroke="#2196f3" strokeWidth={1.3} isAnimationActive={false} />
      <Line xAxisId="cat" yAxisId="macd" dataKey="signal" type="monotone" connectNulls dot={false} stroke="#ff6d00" strokeWidth={1.3} isAnimationActive={false} />
    </ComposedChart>
  );
}

export default function App() {
  const layer = (top: number, z: number, child: React.ReactNode) => (
    <div style={{ position: 'absolute', left: 0, top, zIndex: z }}>{child}</div>
  );
  const rule = (top: number) => (
    <div style={{ position: 'absolute', left: 0, top, width: W, height: 1, background: '#e0e3eb', zIndex: 4 }} />
  );
  return (
    <div
      style={{
        position: 'absolute',
        left: 0,
        top: 0,
        width: W,
        height: 726,
        overflow: 'hidden',
        background: '#ffffff',
        fontFamily: FONT,
        color: TEXT,
      }}
    >
      <Legends />
      {layer(0, 1, <PricePane />)}
      {layer(MAIN_H, 1, <RsiPane />)}
      {layer(MAIN_H + RSI_H, 1, <MacdPane />)}
      {layer(0, 3, <TagLayer height={MAIN_H} domain={PRICE_DOMAIN} tags={PRICE_TAGS} volDomain={VOL_DOMAIN} />)}
      {layer(MAIN_H, 3, <TagLayer height={RSI_H} domain={RSI_DOMAIN} tags={RSI_TAGS} />)}
      {layer(MAIN_H + RSI_H, 3, <TagLayer height={MACD_H} domain={MACD_DOMAIN} tags={MACD_TAGS} />)}
      {rule(MAIN_H)}
      {rule(MAIN_H + RSI_H)}
      <div style={{ position: 'absolute', left: 0, top: 723, width: W, height: 3, background: '#e0e3eb' }} />
    </div>
  );
}
